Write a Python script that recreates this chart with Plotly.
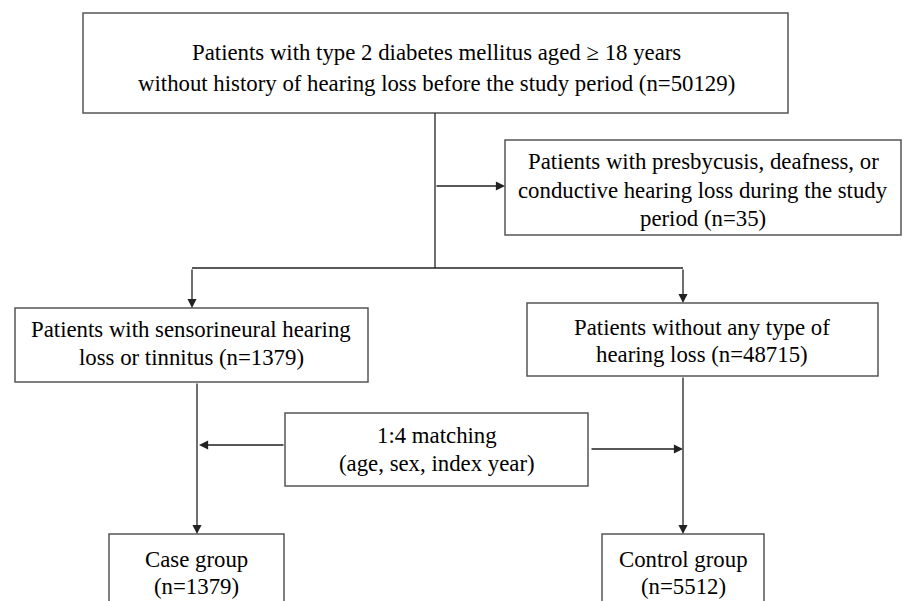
import plotly.graph_objects as go

# Node texts (lines) and counts
top_lines = ["Patients with type 2 diabetes mellitus aged \u2265 18 years",
             "without history of hearing loss before the study period (n=50129)"]
excl_lines = ["Patients with presbycusis, deafness, or",
              "conductive hearing loss during the study",
              "period (n=35)"]
snhl_lines = ["Patients with sensorineural hearing",
              "loss or tinnitus (n=1379)"]
nohl_lines = ["Patients without any type of",
              "hearing loss (n=48715)"]
match_lines = ["1:4 matching", "(age, sex, index year)"]
case_lines = ["Case group", "(n=1379)"]
ctrl_lines = ["Control group", "(n=5512)"]

W, H = 903, 601
FONT = dict(family="Liberation Serif, Times New Roman, serif", size=22.8, color="#000000")
BOX_COLOR = "#555555"
LINE_COLOR = "#222222"

fig = go.Figure()
shapes = []
annotations = []

def box(x0, x1, y0, y1):
    shapes.append(dict(type="rect", xref="x", yref="y", x0=x0, x1=x1, y0=y0, y1=y1,
                       line=dict(color=BOX_COLOR, width=1.5), fillcolor="white", layer="above"))

def text_lines(lines, xc, ys):
    for t, y in zip(lines, ys):
        annotations.append(dict(x=xc, y=y, xref="x", yref="y", text=t, showarrow=False,
                                font=FONT, xanchor="center", yanchor="middle"))

def line(x0, y0, x1, y1):
    shapes.append(dict(type="line", xref="x", yref="y", x0=x0, y0=y0, x1=x1, y1=y1,
                       line=dict(color=LINE_COLOR, width=1.3)))

def arrow(x0, y0, x1, y1):
    annotations.append(dict(x=x1, y=y1, ax=x0, ay=y0, xref="x", yref="y", axref="x", ayref="y",
                            text="", showarrow=True, arrowhead=2, arrowsize=1.4, arrowwidth=1.3,
                            arrowcolor=LINE_COLOR, standoff=0))

# Boxes
box(83, 788, 13, 113)
box(505, 901, 140, 235)
box(15, 368, 308, 382)
box(527, 878, 303, 376)
box(285, 588, 413, 486)
box(109, 284, 534, 612)
box(602, 764, 534, 612)

# Connectors
line(435, 113, 435, 268)
arrow(435, 186, 505, 186)
line(192, 268, 683, 268)
arrow(192, 268, 192, 308)
arrow(683, 268, 683, 303)
arrow(197, 382, 197, 534)
arrow(683, 376, 683, 534)
arrow(285, 445, 199, 445)
arrow(590, 449, 683, 449)

# Texts
text_lines(top_lines, 436, [52, 83])
text_lines(excl_lines, 703, [161, 190, 218])
text_lines(snhl_lines, 191, [329, 357])
text_lines(nohl_lines, 702, [327, 354])
text_lines(match_lines, 437, [435, 463])
text_lines(case_lines, 196, [559, 586])
text_lines(ctrl_lines, 683, [559, 586])

fig.update_layout(
    width=W, height=H,
    margin=dict(l=0, r=0, t=0, b=0),
    paper_bgcolor="white", plot_bgcolor="white",
    xaxis=dict(range=[0, W], visible=False, fixedrange=True),
    yaxis=dict(range=[H, 0], visible=False, fixedrange=True),
    shapes=shapes, annotations=annotations, showlegend=False,
)
fig.write_html("out.html",
               config=dict(displayModeBar=False),
               post_script="document.body.style.margin='0';document.body.style.overflow='hidden';")
